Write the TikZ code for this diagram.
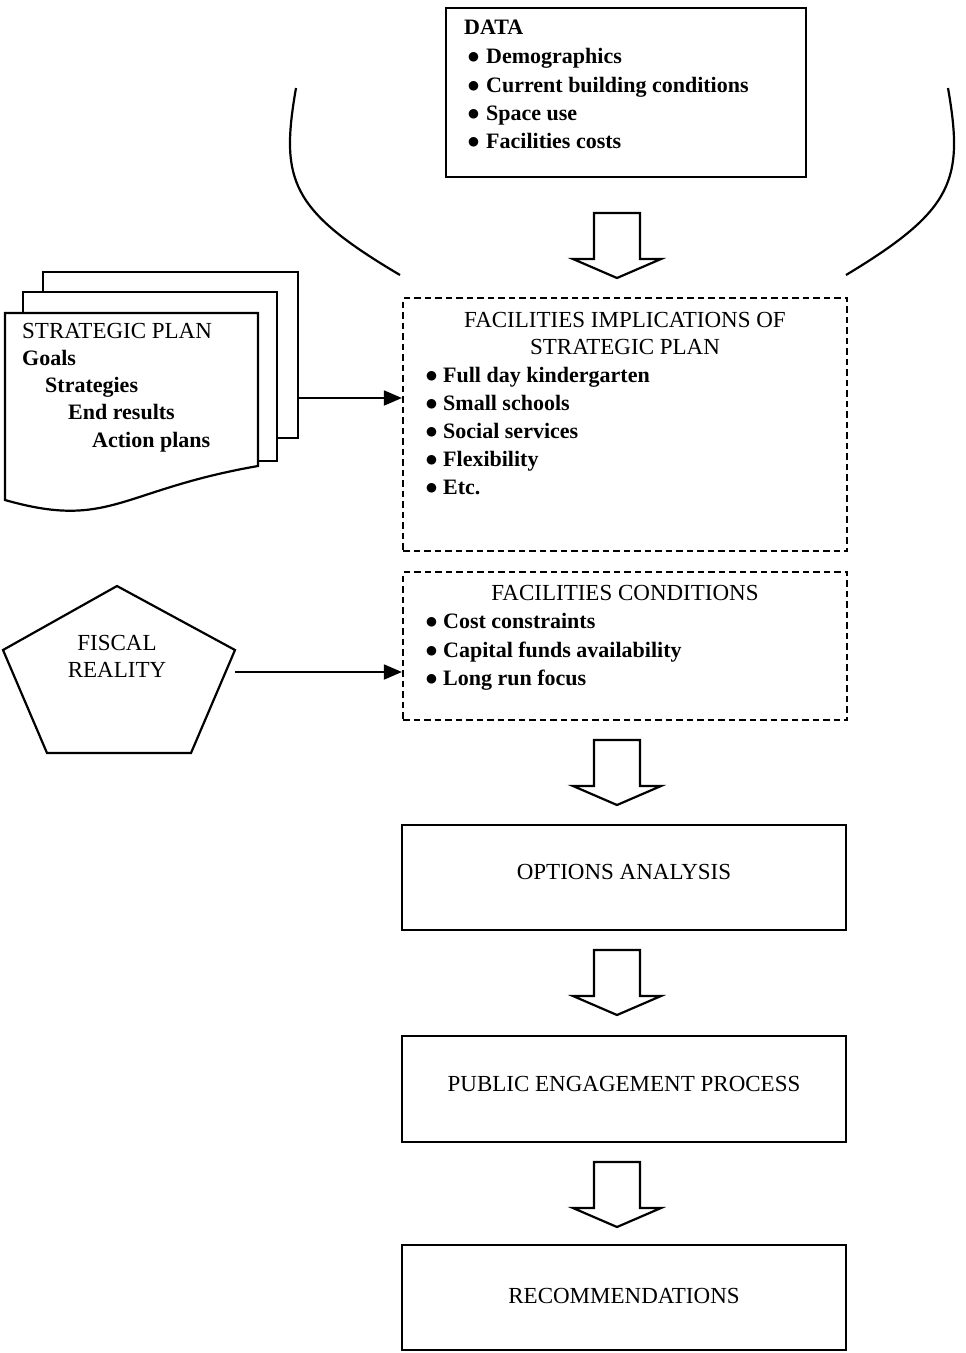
\documentclass[tikz,border=0pt]{standalone}
\usepackage{fontspec}
\setmainfont{Liberation Serif}
\newfontfamily\symfont{DejaVu Sans}
\usetikzlibrary{arrows.meta,calc}
\newcommand\bitem[2][17pt]{\makebox[#1][l]{\raisebox{3pt}{\symfont\fontsize{12.5}{12.5}\selectfont ●}}#2}
\tikzset{
  outl/.style={line width=2.2pt, line join=miter},
  solidbox/.style={draw, line width=2.2pt, inner sep=0, rectangle},
  dashbox/.style={draw, line width=2.2pt, dash pattern=on 6.5pt off 4pt, inner sep=0, rectangle},
  reg/.style={inner sep=0, font=\fontsize{23}{28}\selectfont},
  bld/.style={inner sep=0, font=\fontsize{22}{28}\selectfont\bfseries},
  conn/.style={line width=1.8pt, -{Triangle[length=18pt,width=15pt]}},
  hollowarrow/.pic={\draw[outl, fill=white] (-23,0) -- (23,0) -- (23,46) -- (44,46) -- (0,65) -- (-44,46) -- (-23,46) -- cycle;},
}
\begin{document}
\begin{tikzpicture}[x=1pt,y=-1pt]
\fill[white] (0,0) rectangle (966,1353);
\useasboundingbox (0,0) rectangle (966,1353);

% ---------- DATA box
\node[solidbox, minimum width=360, minimum height=169] (data) at (626,92.5) {};
\node[bld, anchor=base west] (dataT) at (464,34) {DATA};
\node[bld, anchor=base west] (d1) at (468,63) {\bitem[18pt]{Demographics}};
\node[bld, anchor=base west] (d2) at (468,92) {\bitem[18pt]{Current building conditions}};
\node[bld, anchor=base west] (d3) at (468,120) {\bitem[18pt]{Space use}};
\node[bld, anchor=base west] (d4) at (468,148) {\bitem[18pt]{Facilities costs}};

% ---------- funnel curves
\draw[outl] (296,88) .. controls (280,180) and (290,210) .. (400,275);
\draw[outl] (948,88) .. controls (964,180) and (954,210) .. (846,275);

% ---------- hollow arrows
\pic at (617,213) {hollowarrow};
\pic at (617,740) {hollowarrow};
\pic at (617,950) {hollowarrow};
\pic at (617,1162) {hollowarrow};

% ---------- facilities implications box
\node[dashbox, minimum width=444, minimum height=253] (impl) at (625,424.5) {};
\node[reg, anchor=base] (implT1) at (625,327) {FACILITIES IMPLICATIONS OF};
\node[reg, anchor=base] (implT2) at (625,354) {STRATEGIC PLAN};
\node[bld, anchor=base west] (i1) at (426,382) {\bitem{Full day kindergarten}};
\node[bld, anchor=base west] (i2) at (426,410) {\bitem{Small schools}};
\node[bld, anchor=base west] (i3) at (426,438) {\bitem{Social services}};
\node[bld, anchor=base west] (i4) at (426,466) {\bitem{Flexibility}};
\node[bld, anchor=base west] (i5) at (426,494) {\bitem{Etc.}};

% ---------- facilities conditions box
\node[dashbox, minimum width=444, minimum height=148] (cond) at (625,646) {};
\node[reg, anchor=base] (condT) at (625,600) {FACILITIES CONDITIONS};
\node[bld, anchor=base west] (c1) at (426,628) {\bitem{Cost constraints}};
\node[bld, anchor=base west] (c2) at (426,657) {\bitem{Capital funds availability}};
\node[bld, anchor=base west] (c3) at (426,685) {\bitem{Long run focus}};

% ---------- strategic plan stack
\draw[outl, fill=white] (43,272) rectangle (298,438);
\draw[outl, fill=white] (23,292) rectangle (277,461);
\draw[outl, fill=white] (5,500) -- (5,313) -- (258,313) -- (258,466)
   .. controls (120,490) and (110,530) .. (5,500) -- cycle;
\coordinate (stackR) at (298,398);
\node[reg, anchor=base west] (sp) at (22,338) {STRATEGIC PLAN};
\node[bld, anchor=base west] (sp1) at (22,365) {Goals};
\node[bld, anchor=base west] (sp2) at (45,392) {Strategies};
\node[bld, anchor=base west] (sp3) at (68,419) {End results};
\node[bld, anchor=base west] (sp4) at (92,447) {Action plans};
\draw[conn] (stackR) -- (impl.west |- stackR);

% ---------- fiscal reality pentagon
\draw[outl, fill=white] (117,586) -- (235,650) -- (191,753) -- (47,753) -- (3,650) -- cycle;
\node[reg, anchor=base] (fis1) at (117,650) {FISCAL};
\node[reg, anchor=base] (fis2) at (117,677) {REALITY};
\coordinate (fisR) at (235,672);
\draw[conn] (fisR) -- (cond.west |- fisR);

% ---------- lower boxes
\node[solidbox, minimum width=444, minimum height=105] (opts) at (624,877.5) {};
\node[reg, anchor=base] (optsT) at (624,879) {OPTIONS ANALYSIS};
\node[solidbox, minimum width=444, minimum height=106] (pub) at (624,1089) {};
\node[reg, anchor=base] (pubT) at (624,1091) {PUBLIC ENGAGEMENT PROCESS};
\node[solidbox, minimum width=444, minimum height=105] (rec) at (624,1297.5) {};
\node[reg, anchor=base] (recT) at (624,1303) {RECOMMENDATIONS};
\end{tikzpicture}
\end{document}
